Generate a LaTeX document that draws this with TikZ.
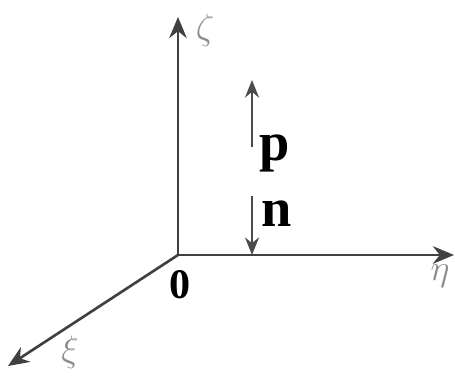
\documentclass[tikz,border=0pt]{standalone}
\usepackage{amsmath}
\usepackage{fontspec}
\setmainfont{Liberation Serif}
\usetikzlibrary{arrows.meta}

\tikzset{
  axis/.style={draw=black!75, line width=1.5pt, -{Stealth[length=12pt,width=10pt]}},
  vec/.style={draw=black!70, line width=1.3pt, -{Stealth[length=10pt,width=8pt]}},
  axlabel/.style={text=black!45, font=\fontsize{20}{20}\selectfont},
  veclabel/.style={font=\fontsize{31}{31}\selectfont\bfseries},
}

\begin{document}
\begin{tikzpicture}[x=0.02cm, y=-0.02cm]
  \useasboundingbox (0,0) rectangle (455,388);
  \coordinate (o) at (178, 255);
  \coordinate (zeta) at (178, 17);
  \coordinate (eta) at (454, 255);
  \coordinate (xi) at (8, 366);
  \coordinate (p0) at (252, 147);
  \coordinate (p1) at (252, 80);
  \coordinate (n0) at (252, 196);
  \coordinate (n1) at (252, 255);
  \draw[axis] (o) -- (zeta);
  \draw[axis] (o) -- (eta);
  \draw[axis] (o) -- (xi);
  \draw[vec] (p0) -- (p1);
  \draw[vec] (n0) -- (n1);
  \node[axlabel] (lzeta) at (205, 30) {$\zeta$};
  \node[axlabel] (leta) at (440, 276) {$\eta$};
  \node[axlabel] (lxi) at (70, 352) {$\xi$};
  \node[font=\fontsize{24}{24}\selectfont\bfseries] (lo) at (180, 285) {0};
  \node[veclabel] (lp) at (275, 153) {p};
  \node[veclabel] (ln) at (277, 214) {n};
\end{tikzpicture}
\end{document}
